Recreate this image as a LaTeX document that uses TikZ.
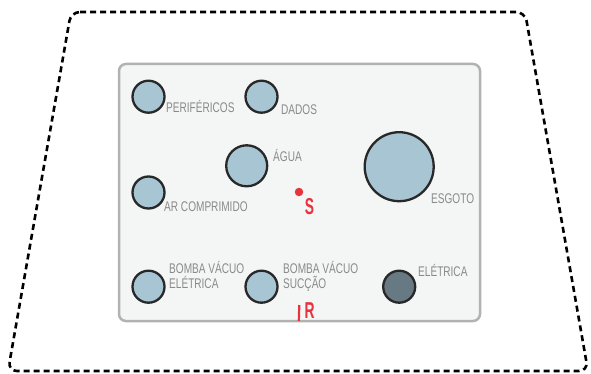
\documentclass[tikz,border=0pt]{standalone}
\usepackage{fontspec}
\newfontfamily\rotulofont{Liberation Sans}[FakeStretch=0.72]
\newfontfamily\marcafont{Liberation Sans Bold}[FakeStretch=0.6]
\definecolor{azul}{RGB}{168,197,211}
\definecolor{azulescuro}{RGB}{103,121,131}
\definecolor{contorno}{RGB}{40,40,40}
\definecolor{placa}{RGB}{244,245,245}
\definecolor{bordaplaca}{RGB}{178,178,178}
\definecolor{cinza}{RGB}{138,138,138}
\definecolor{vermelho}{RGB}{232,50,60}
\tikzset{
    ponto/.style={circle, draw=contorno, line width=2.3pt, fill=azul, inner sep=0pt, minimum size=32pt},
    rotulo/.style={text=cinza, font=\rotulofont\fontsize{14}{15}\selectfont, inner sep=0pt, anchor=base west, align=left},
    marca/.style={text=vermelho, font=\marcafont\fontsize{23}{23}\selectfont, inner sep=0pt}
}
\begin{document}
\begin{tikzpicture}[x=1pt, y=-1pt, line join=round]
        \useasboundingbox (0,0) rectangle (591,374);
        \coordinate (NO) at (71,12);
        \coordinate (NE) at (525,12);
        \coordinate (SE) at (588,371);
        \coordinate (SO) at (8,371);
        
        \draw[line width=2.6pt, dash pattern=on 6pt off 4pt, rounded corners=9pt] (NO)--(NE)--(SE)--(SO)--cycle;
        \draw[fill=placa, draw=bordaplaca, line width=2.5pt, rounded corners=7pt] (119,64) rectangle (480,321);
        
        \node[ponto] (perifericos) at (148.5,96.7) {};
        \node[ponto] (dados) at (261.5,96.7) {};
        \node[ponto, minimum size=41pt] (agua) at (246.7,165.8) {};
        \node[ponto] (ar) at (148.5,192.5) {};
        \node[ponto, minimum size=69pt] (esgoto) at (399.2,166.7) {};
        \node[ponto] (vacuoeletrica) at (148.5,286.7) {};
        \node[ponto] (vacuosuccao) at (261.5,286.7) {};
        \node[ponto, fill=azulescuro] (eletrica) at (399.2,286.7) {};
        
        \node[rotulo] (tperifericos) at (166,113) {PERIFÉRICOS};
        \node[rotulo] (tdados) at (281,114.5) {DADOS};
        \node[rotulo] (tagua) at (273,162) {ÁGUA};
        \node[rotulo] (tar) at (164,211) {AR COMPRIMIDO};
        \node[rotulo] (tesgoto) at (431,204) {ESGOTO};
        \node[rotulo] (tvacuoeletrica) at (169,288) {BOMBA VÁCUO\\ELÉTRICA};
        \node[rotulo] (tvacuosuccao) at (283,288) {BOMBA VÁCUO\\SUCÇÃO};
        \node[rotulo] (teletrica) at (418,276) {ELÉTRICA};
        
        \node[circle, fill=vermelho, inner sep=0pt, minimum size=8.5pt] (pontoS) at (299,192) {};
        \node[marca] (S) at (309.5,206.5) {S};
        \coordinate (R1) at (299.3,305);
        \coordinate (R2) at (298.8,321);
        \draw[vermelho, line width=2.2pt] (R1)--(R2);
        \node[marca] (R) at (309.5,311) {R};
    \end{tikzpicture}
\end{document}
